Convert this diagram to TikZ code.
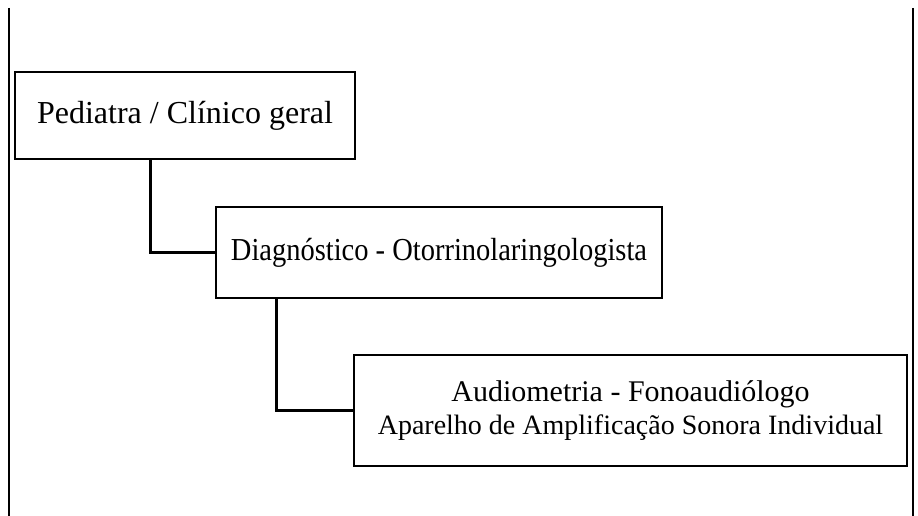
\documentclass[tikz,border=0pt]{standalone}
\usepackage{fontspec}
\setmainfont{Liberation Serif}
\usepackage{graphicx}
\begin{document}
\begin{tikzpicture}[x=1pt,y=-1pt,
  box/.style={draw,line width=2.6pt,inner sep=0pt,fill=white},
  conn/.style={line width=2.6pt},
  side/.style={line width=2.6pt}]
\useasboundingbox[fill=white] (0,0) rectangle (918,516);
\coordinate (lt) at (9,8);
\coordinate (lb) at (9,516);
\coordinate (rt) at (913,8);
\coordinate (rb) at (913,516);
\draw[side] (lt) -- (lb);
\draw[line width=1.3pt] (rt) -- (rb);
\node[box,minimum width=340,minimum height=87] (b1) at (185,115.5)
  {\fontsize{32}{36}\selectfont Pediatra / Clínico geral};
\node[box,minimum width=446,minimum height=91] (b2) at (439,252.5)
  {\raisebox{6pt}{\scalebox{0.89}[1]{\fontsize{32}{36}\selectfont Diagnóstico - Otorrinolaringologista}}};
\node[box,minimum width=553,minimum height=111,align=center] (b3) at (630.5,410.5)
  {\raisebox{0pt}{\fontsize{30}{34}\selectfont Audiometria - Fonoaudiólogo}\\[6pt]
   \fontsize{28}{34}\selectfont Aparelho de Amplificação Sonora Individual};
\draw[conn] ([xshift=137pt]b1.south west) |- (b2.west);
\draw[conn] ([xshift=62pt]b2.south west) |- (b3.west);
\end{tikzpicture}
\end{document}
